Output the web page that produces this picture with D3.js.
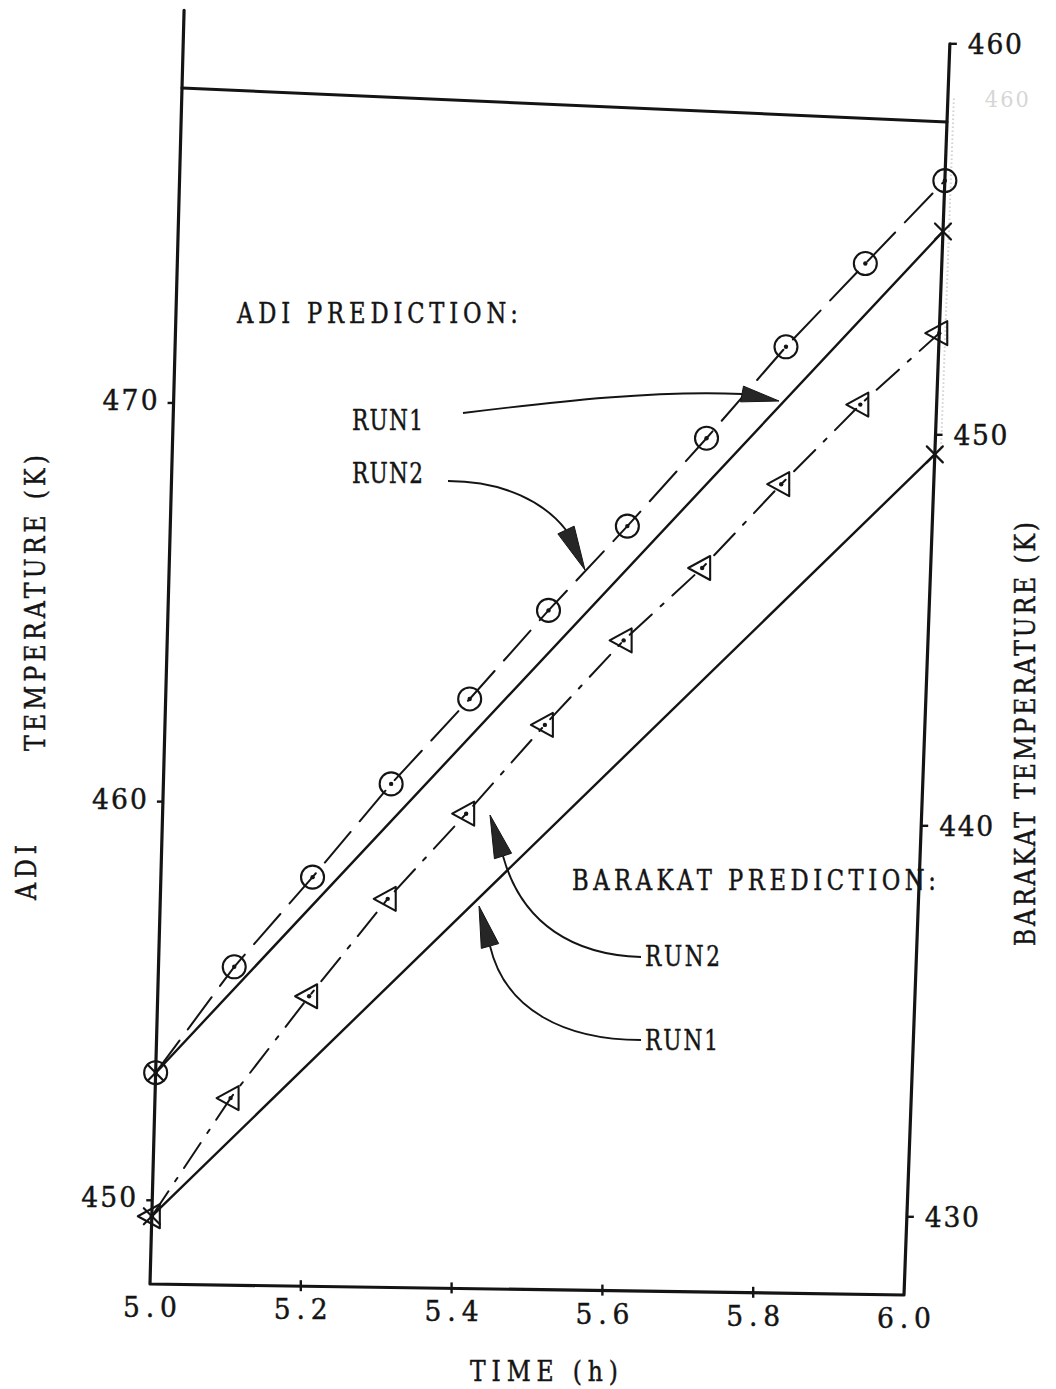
<!DOCTYPE html>
<html>
<head>
<meta charset="utf-8">
<script src="https://cdn.jsdelivr.net/npm/d3@7"></script>
<style>
  html, body { margin: 0; padding: 0; background: #fff; }
  svg { display: block; }
  text { font-family: "DejaVu Serif", serif; fill: #141414; stroke: #141414; stroke-width: 0.45px; }
</style>
</head>
<body>
<svg id="chart" width="1056" height="1389"></svg>
<script>
// ---- data -------------------------------------------------------------
const time = [5.0, 5.1, 5.2, 5.3, 5.4, 5.5, 5.6, 5.7, 5.8, 5.9, 6.0];
// ADI prediction, run 2 (circles, dashed)  [K]
const adiRun2 = [453.2, 455.9, 458.2, 460.6, 462.8, 465.1, 467.3, 469.6, 472.0, 474.2, 476.4];
// Barakat prediction, run 2 (triangles, chain line)  [K]
const barakatRun2 = [429.7, 432.7, 435.3, 437.8, 440.0, 442.3, 444.5, 446.4, 448.6, 450.7, 452.6];
// straight-line runs (solid, crosses at the ends)
const lineTime = [5.0, 6.0];
const adiRun1 = [453.2, 475.1];
const barakatRun1 = [429.7, 449.5];

const timeTicks = [5.0, 5.2, 5.4, 5.6, 5.8, 6.0];
const timeTickLabels = ["5.0", "5.2", "5.4", "5.6", "5.8", "6.0"];
const adiTicks = [450, 460, 470];
const adiTickLabels = ["450", "460", "470"];
const barakatTicks = [430, 440, 450, 460];
const barakatTickLabels = ["430", "440", "450", "460"];

// ---- scales (unit square) ----------------------------------------------
const x = d3.scaleLinear().domain([5, 6]).range([0, 1]);
const yAdi = d3.scaleLinear().domain([447.9, 477.9]).range([0, 1]);
const yBar = d3.scaleLinear().domain([428, 458]).range([0, 1]);

// the hand-ruled frame is not quite rectangular: map the unit square
// onto its four corners
const BL = [150, 1284], BR = [904, 1295], TL = [182, 88], TR = [947, 122];
function warp(u, v) {
  const a = (1 - u) * (1 - v), b = u * (1 - v), c = (1 - u) * v, d = u * v;
  return [a * BL[0] + b * BR[0] + c * TL[0] + d * TR[0],
          a * BL[1] + b * BR[1] + c * TL[1] + d * TR[1]];
}

const svg = d3.select("#chart");
const ink = "#141414";
const line = d3.line();

// typewriter look: narrowed glyphs spread to a fixed pitch over width w
function label(g, str, w, x, y, rot, sx = 0.84) {
  const tf = `translate(${x},${y})` + (rot ? ` rotate(${rot})` : "") + ` scale(${sx},1)`;
  return g.append("text").attr("transform", tf)
    .attr("textLength", w / sx).attr("lengthAdjust", "spacing").text(str);
}

// ---- frame -------------------------------------------------------------
const frame = svg.append("g").attr("fill", "none").attr("stroke", ink)
  .attr("stroke-linecap", "round").attr("stroke-linejoin", "round");
frame.append("path").attr("stroke-width", 3.2)
  .attr("d", line([warp(0, 1.065), warp(0, 0), warp(1, 0), warp(1, yBar(460))]));
frame.append("path").attr("stroke-width", 3)
  .attr("d", line([warp(0, 1), warp(1, 1)]));

// faint show-through along the right axis
const g0 = warp(1, 1.02), g1 = warp(1, 0.72);
svg.append("path").attr("fill", "none").attr("stroke", "#d2d2d2")
  .attr("stroke-width", 2).attr("stroke-dasharray", "1.5,2.5")
  .attr("d", line([[g0[0] + 6, g0[1]], [g1[0] + 6, g1[1]]]));
label(svg, "460", 44, g0[0] + 37, g0[1] + 8, 0, 0.95)
  .attr("font-size", 22).style("fill", "#d6d6d6").style("stroke", "none");

// ---- ticks and tick labels ----------------------------------------------
const ticks = svg.append("g").attr("stroke", ink).attr("stroke-width", 2.4);
const labels = svg.append("g").attr("font-size", 28);
const DIG = 0.95;

adiTicks.forEach((t, i) => {
  const p = warp(0, yAdi(t));
  ticks.append("line").attr("x1", p[0]).attr("y1", p[1]).attr("x2", p[0] - 6).attr("y2", p[1]);
  label(labels, adiTickLabels[i], 55, p[0] - 71, p[1] + 7, 0, DIG);
});
barakatTicks.forEach((t, i) => {
  const p = warp(1, yBar(t));
  ticks.append("line").attr("x1", p[0]).attr("y1", p[1]).attr("x2", p[0] + 7).attr("y2", p[1]);
  label(labels, barakatTickLabels[i], 54, p[0] + 18, p[1] + 10, 0, DIG);
});
timeTicks.forEach((t, i) => {
  const p = warp(x(t), 0);
  if (i > 0 && i < timeTicks.length - 1) {
    ticks.append("line").attr("x1", p[0]).attr("y1", p[1] - 6).attr("x2", p[0]).attr("y2", p[1] + 5);
  }
  label(labels, timeTickLabels[i], 54, p[0] - 27, p[1] + 33, 0, DIG);
});

// ---- axis titles --------------------------------------------------------
label(labels, "TIME (h)", 148, 470, 1381);
label(labels, "ADI", 55, 36, 900, -90);
label(labels, "TEMPERATURE (K)", 296, 45, 751, -90);
label(labels, "BARAKAT TEMPERATURE (K)", 424, 1035, 946, -90);

// ---- series -------------------------------------------------------------
const plot = svg.append("g").attr("fill", "none").attr("stroke", ink)
  .attr("stroke-linecap", "round");

const adiPts = time.map((t, i) => warp(x(t), yAdi(adiRun2[i])));
const barPts = time.map((t, i) => warp(x(t), yBar(barakatRun2[i])));
const adi1Pts = lineTime.map((t, i) => warp(x(t), yAdi(adiRun1[i])));
const bar1Pts = lineTime.map((t, i) => warp(x(t), yBar(barakatRun1[i])));

plot.append("path").attr("stroke-width", 2.4).attr("d", line(adi1Pts));
plot.append("path").attr("stroke-width", 2.4).attr("d", line(bar1Pts));
plot.append("path").attr("stroke-width", 2).attr("stroke-dasharray", "40,14")
  .attr("d", line(adiPts));
plot.append("path").attr("stroke-width", 2).attr("stroke-dasharray", "30,12,4,12")
  .attr("d", line(barPts));

// crosses at the ends of the solid lines
const crosses = plot.append("g").attr("stroke-width", 2.2);
[adi1Pts, bar1Pts].forEach(pts => pts.forEach(p => {
  crosses.append("path").attr("d", `M${p[0] - 8},${p[1] - 8}L${p[0] + 8},${p[1] + 8}M${p[0] + 8},${p[1] - 8}L${p[0] - 8},${p[1] + 8}`);
}));

// circles (ADI run 2)
const circ = plot.append("g");
adiPts.forEach(p => {
  circ.append("circle").attr("cx", p[0]).attr("cy", p[1]).attr("r", 11.5).attr("stroke-width", 2.1);
  circ.append("circle").attr("cx", p[0]).attr("cy", p[1]).attr("r", 2.2).attr("fill", ink).attr("stroke", "none");
});

// left-pointing triangles (Barakat run 2)
const tri = plot.append("g");
barPts.forEach(p => {
  tri.append("path").attr("stroke-width", 2.1).attr("stroke-linejoin", "round")
    .attr("d", `M${p[0] - 14},${p[1]}L${p[0] + 8},${p[1] - 12}L${p[0] + 8},${p[1] + 12}Z`);
  tri.append("circle").attr("cx", p[0]).attr("cy", p[1]).attr("r", 2.2).attr("fill", ink).attr("stroke", "none");
});

// ---- annotations --------------------------------------------------------
const notes = svg.append("g").attr("font-size", 27);
label(notes, "ADI PREDICTION:", 281, 237, 323);
label(notes, "RUN1", 71, 352, 430, 0, 0.8);
label(notes, "RUN2", 71, 352, 483, 0, 0.8);
label(notes, "BARAKAT PREDICTION:", 364, 572, 890);
label(notes, "RUN2", 75, 645, 966, 0, 0.8);
label(notes, "RUN1", 73, 645, 1050, 0, 0.8);

const arrows = [
  { d: "M463,413 C560,401 660,390 742,394", base: [742, 394], tip: [779, 401], hw: 8 },
  { d: "M448,481 C505,481 545,503 566,530", base: [566, 530], tip: [585, 570], hw: 9 },
  { d: "M641,957 C575,955 522,925 503,856", base: [503, 856], tip: [490, 815], hw: 9 },
  { d: "M641,1040 C565,1040 505,1010 490,946", base: [490, 946], tip: [479, 906], hw: 9 }
];
const arrowG = svg.append("g");
arrows.forEach(a => {
  arrowG.append("path").attr("d", a.d).attr("fill", "none").attr("stroke", ink).attr("stroke-width", 1.9);
  const dx = a.tip[0] - a.base[0], dy = a.tip[1] - a.base[1];
  const L = Math.hypot(dx, dy), px = -dy / L * a.hw, py = dx / L * a.hw;
  arrowG.append("path").attr("fill", "#262626").attr("stroke", "#141414").attr("stroke-width", 1)
    .attr("stroke-linejoin", "round")
    .attr("d", `M${a.tip[0]},${a.tip[1]}L${a.base[0] + px},${a.base[1] + py}L${a.base[0] - px},${a.base[1] - py}Z`);
});
</script>
</body>
</html>
